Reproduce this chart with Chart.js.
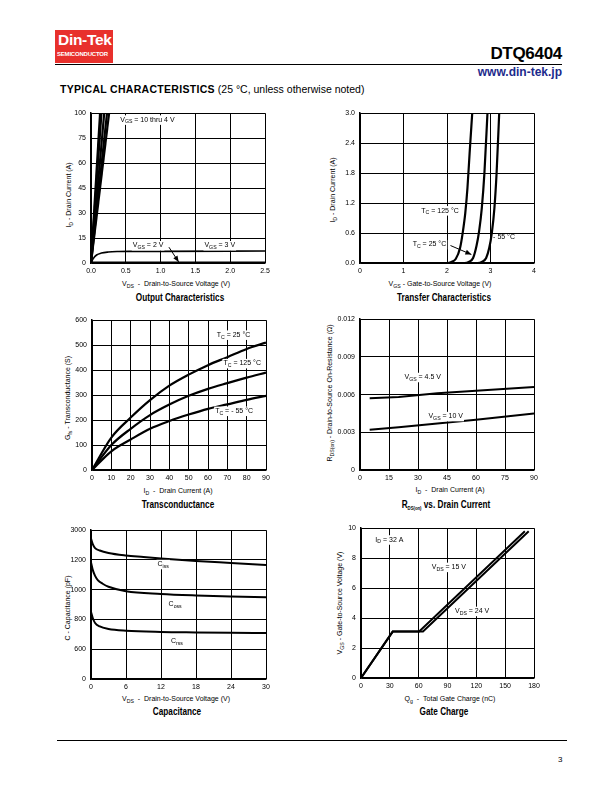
<!DOCTYPE html>
<html><head><meta charset="utf-8">
<script src="https://cdn.jsdelivr.net/npm/chart.js@4.4.1/dist/chart.umd.min.js"></script>
<style>
body{margin:0;width:612px;height:792px;position:relative;background:#fff;font-family:"Liberation Sans",Arial,sans-serif;color:#000;overflow:hidden}
.a{position:absolute;white-space:nowrap}
.c{transform:translate(-50%,-50%)}
.r{transform:translate(-50%,-50%) rotate(-90deg)}
.ax{font-size:7px}
.ti{font-size:10px;font-weight:bold;transform:translate(-50%,-50%) scaleX(0.82)}
sub{font-size:5.2px;vertical-align:-2px;line-height:0}
canvas{position:absolute}
</style></head><body>
<div class="a" style="left:55px;top:30px;width:58px;height:33px;background:#e8302c"></div>
<div class="a" style="left:58px;top:31px;font-size:15.5px;font-weight:bold;color:#fff;letter-spacing:-0.3px">Din-Tek</div>
<div class="a" style="left:57px;top:51px;font-size:6px;font-weight:bold;color:#fff;letter-spacing:-0.2px">SEMICONDUCTOR</div>
<div class="a" style="right:50px;top:44px;font-size:17px;font-weight:bold;letter-spacing:-0.3px">DTQ6404</div>
<div class="a" style="left:55px;top:63.5px;width:507px;height:1.5px;background:#000"></div>
<div class="a" style="right:50px;top:65px;font-size:12px;font-weight:bold;color:#1c2a8c">www.din-tek.jp</div>
<div class="a" style="left:60px;top:83px;font-size:10.5px"><b style="letter-spacing:0.3px">TYPICAL CHARACTERISTICS</b> (25 °C, unless otherwise noted)</div>
<div class="a" style="left:57px;top:740px;width:510px;height:1px;background:#000"></div>
<div class="a" style="left:558px;top:755px;font-size:8px">3</div>

<div class="a ax r" style="left:68px;top:195px">I<sub>D</sub> - Drain Current (A)</div>
<div class="a ax c" style="left:176px;top:283px">V<sub>DS</sub> &nbsp;- &nbsp;Drain-to-Source Voltage (V)</div>
<div class="a ti" style="left:180px;top:297px">Output Characteristics</div>

<div class="a ax r" style="left:332px;top:190px">I<sub>D</sub> - Drain Current (A)</div>
<div class="a ax c" style="left:440px;top:283px">V<sub>GS</sub> - Gate-to-Source Voltage (V)</div>
<div class="a ti" style="left:444px;top:297px">Transfer Characteristics</div>

<div class="a ax r" style="left:67px;top:398px">G<sub>fs</sub> - Transconductance (S)</div>
<div class="a ax c" style="left:178px;top:490px">I<sub>D</sub> &nbsp;- &nbsp;Drain Current (A)</div>
<div class="a ti" style="left:178px;top:504px">Transconductance</div>

<div class="a ax r" style="left:329px;top:393px">R<sub>DS(on)</sub> - Drain-to-Source On-Resistance (Ω)</div>
<div class="a ax c" style="left:450px;top:489px">I<sub>D</sub> &nbsp;- &nbsp;Drain Current (A)</div>
<div class="a ti" style="left:446px;top:504px">R<sub>DS(on)</sub> vs. Drain Current</div>

<div class="a ax r" style="left:67px;top:608px">C - Capacitance (pF)</div>
<div class="a ax c" style="left:176px;top:698px">V<sub>DS</sub> &nbsp;- &nbsp;Drain-to-Source Voltage (V)</div>
<div class="a ti" style="left:177px;top:711px">Capacitance</div>

<div class="a ax r" style="left:339px;top:603px">V<sub>GS</sub> - Gate-to-Source Voltage (V)</div>
<div class="a ax c" style="left:450px;top:698px">Q<sub>g</sub> &nbsp;- &nbsp;Total Gate Charge (nC)</div>
<div class="a ti" style="left:444px;top:711px">Gate Charge</div>

<script>
// ---------- DATA ----------
// Output characteristics (x: VDS V, y: ID axis units)
const outVgs10 = [[0,0],[0.13,90]];
const outVgs8  = [[0,0],[0.15,90]];
const outVgs6  = [[0,0],[0.19,90]];
const outVgs5  = [[0,0],[0.23,90]];
const outVgs4  = [[0,0],[0.26,90]];
const outVgs3  = [[0,0],[0.03,2.5],[0.08,4.8],[0.15,6.0],[0.25,6.6],[0.4,6.9],[0.55,7.0],[1.0,7.0],[2.5,7.2]];
const outVgs2  = [[0,0],[2.5,0]];
const outXTicks = ["0.0","0.5","1.0","1.5","2.0","2.5"];
const outYTicks = ["0","15","30","45","60","75","100"];

// Transfer characteristics (x: VGS V, y: ID A)
const trans125 = [[0,0],[2.0,0],[2.1,0.02],[2.2,0.08],[2.3,0.3],[2.36,0.6],[2.42,1.0],[2.47,1.5],[2.52,2.2],[2.58,3.0]];
const trans25  = [[0,0],[2.4,0],[2.5,0.02],[2.6,0.1],[2.68,0.35],[2.74,0.65],[2.8,1.1],[2.86,1.8],[2.93,3.0]];
const transM55 = [[0,0],[2.7,0],[2.8,0.02],[2.9,0.1],[2.97,0.3],[3.03,0.6],[3.09,1.1],[3.14,1.8],[3.2,3.0]];
const transXTicks = ["0","1","2","3","4"];
const transYTicks = ["0.0","0.6","1.2","1.8","2.4","3.0"];

// Transconductance (x: ID A, y: gfs S)
const gfs25  = [[0,0],[10,130],[20,210],[30,280],[40,338],[50,382],[60,420],[70,452],[80,485],[90,510]];
const gfs125 = [[0,0],[10,100],[20,165],[30,220],[40,262],[50,297],[60,325],[70,348],[80,370],[90,390]];
const gfsM55 = [[0,0],[10,75],[20,122],[30,165],[40,196],[50,222],[60,245],[70,263],[80,281],[90,297]];
const gfsXTicks = ["0","10","20","30","40","50","60","70","80","90"];
const gfsYTicks = ["0","100","200","300","400","500","600"];

// RDS(on) vs drain current (x: ID A, y: ohm)
const rdsVgs45 = [[5,0.0057],[20,0.0058],[40,0.0061],[60,0.0063],[90,0.0066]];
const rdsVgs10 = [[5,0.0032],[20,0.0034],[40,0.0037],[60,0.0040],[90,0.0045]];
const rdsXTicks = ["0","15","30","45","60","75","90"];
const rdsYTicks = ["0","0.003","0.006","0.009","0.012"];

// Capacitance (x: VDS V, y: axis units)
const capCiss = [[0,2830],[0.3,2720],[0.7,2640],[1.5,2590],[3,2540],[6,2490],[9,2460],[12,2430],[18,2380],[24,2340],[30,2300]];
const capCoss = [[0,2350],[0.3,2200],[0.7,2080],[1.2,1990],[2,1920],[3,1860],[6,1770],[12,1715],[18,1685],[24,1665],[30,1650]];
const capCrss = [[0,1350],[0.3,1230],[0.7,1130],[1.5,1060],[3,1010],[6,975],[12,950],[18,940],[24,932],[30,927]];
const capXTicks = ["0","6","12","18","24","30"];
const capYTicks = ["0","600","800","1000","1200","3000"];

// Gate charge (x: Qg nC, y: VGS V)
const qgVds15 = [[0,0],[33,3.1],[60.5,3.1],[170.5,9.8]];
const qgVds24 = [[0,0],[33,3.1],[64.5,3.1],[174.5,9.8]];
const qgXTicks = ["0","30","60","90","120","150","180"];
const qgYTicks = ["0","2","4","6","8","10"];

// ---------- RENDER ----------
Chart.defaults.font.family = '"Liberation Sans", Arial, sans-serif';
Chart.defaults.color = '#000';

const FONT = '"Liberation Sans", Arial, sans-serif';
const notesPlugin = {
  id: 'notes',
  afterDatasetsDraw(chart, args, opts) {
    const ctx = chart.ctx, xs = chart.scales.x, ys = chart.scales.y;
    ctx.save();
    ctx.textBaseline = 'middle';
    (opts.labels || []).forEach(l => {
      const x0 = xs.getPixelForValue(l.x), py = ys.getPixelForValue(l.y);
      let wsum = 0;
      l.parts.forEach(p => { ctx.font = (p[1] === 1 ? '5.2px ' : '7px ') + FONT; wsum += ctx.measureText(p[0]).width; });
      if (!l.nobg) { ctx.fillStyle = '#fff'; ctx.fillRect(x0 - 1, py - 4.5, wsum + 2, 9.5); }
      ctx.fillStyle = '#000';
      let px = x0;
      l.parts.forEach(p => {
        const sub = p[1] === 1;
        ctx.font = (sub ? '5.2px ' : '7px ') + FONT;
        ctx.fillText(p[0], px, py + (sub ? 2.2 : 0));
        px += ctx.measureText(p[0]).width;
      });
    });
    ctx.strokeStyle = '#000'; ctx.fillStyle = '#000';
    (opts.arrows || []).forEach(a => {
      const x1 = xs.getPixelForValue(a[0]), y1 = ys.getPixelForValue(a[1]);
      const x2 = xs.getPixelForValue(a[2]), y2 = ys.getPixelForValue(a[3]);
      ctx.lineWidth = 1;
      ctx.beginPath(); ctx.moveTo(x1, y1); ctx.lineTo(x2, y2); ctx.stroke();
      const ang = Math.atan2(y2 - y1, x2 - x1), L = 6, W = 2.5;
      ctx.beginPath();
      ctx.moveTo(x2, y2);
      ctx.lineTo(x2 - L * Math.cos(ang) + W * Math.sin(ang), y2 - L * Math.sin(ang) - W * Math.cos(ang));
      ctx.lineTo(x2 - L * Math.cos(ang) - W * Math.sin(ang), y2 - L * Math.sin(ang) + W * Math.cos(ang));
      ctx.closePath(); ctx.fill();
    });
    ctx.restore();
  }
};

function pts(arr) { return arr.map(p => ({x: p[0], y: p[1]})); }

function makeChart(rect, series, xr, yr, xLabels, yLabels, notes) {
  const PL = 40, PT = 8, PR = 12, PB = 16;
  const cv = document.createElement('canvas');
  const w = rect.r - rect.l + PL + PR, h = rect.b - rect.t + PT + PB;
  cv.width = w; cv.height = h;
  cv.style.left = (rect.l - PL) + 'px'; cv.style.top = (rect.t - PT) + 'px';
  cv.style.width = w + 'px'; cv.style.height = h + 'px';
  document.body.appendChild(cv);
  const axisCommon = {
    type: 'linear',
    grid: { color: '#000', lineWidth: 1, drawTicks: false },
    border: { color: '#000', width: 1.5 },
  };
  new Chart(cv, {
    type: 'line',
    data: {
      datasets: series.map(s => ({
        data: pts(s.d), borderColor: s.color || '#000', borderWidth: s.w || 2,
        pointRadius: 0, fill: false,
        cubicInterpolationMode: s.straight ? 'default' : 'monotone', tension: 0,
        borderJoinStyle: 'miter'
      }))
    },
    options: {
      responsive: false, animation: false, events: [],
      layout: { padding: { left: 0, top: PT, right: PR, bottom: 0 } },
      plugins: { legend: { display: false }, tooltip: { enabled: false }, notes: notes || {} },
      scales: {
        x: Object.assign({}, axisCommon, {
          min: xr[0], max: xr[1],
          ticks: { stepSize: xr[2], autoSkip: false, maxRotation: 0, padding: 4,
                   font: { size: 7 }, callback: (v, i) => xLabels[i] },
          afterFit: s => { s.height = PB; }
        }),
        y: Object.assign({}, axisCommon, {
          min: yr[0], max: yr[1],
          ticks: { stepSize: yr[2], autoSkip: false, padding: 5,
                   font: { size: 7 }, callback: (v, i) => yLabels[i] },
          afterFit: s => { s.width = PL; }
        })
      }
    },
    plugins: [notesPlugin]
  });
}

// 1. Output characteristics
makeChart({l:91,t:112,r:265,b:263},
  [{d:outVgs10,w:2.2,straight:1},{d:outVgs8,w:2.2,straight:1},{d:outVgs6,w:2.2,straight:1},
   {d:outVgs5,w:2.2,straight:1},{d:outVgs4,w:2.2,straight:1},
   {d:outVgs3,w:1.6},{d:outVgs2,w:3,straight:1}],
  [0,2.5,0.5],[0,90,15], outXTicks, outYTicks,
  { labels: [
      {x:0.42,y:86,parts:[["V",0],["GS",1],[" = 10 thru 4 V",0]]},
      {x:0.6,y:10.5,parts:[["V",0],["GS",1],[" = 2 V",0]]},
      {x:1.63,y:10.5,parts:[["V",0],["GS",1],[" = 3 V",0]]}],
    arrows: [[1.12,9.5,1.26,0.6]] });

// 2. Transfer characteristics
makeChart({l:360,t:112,r:534,b:263},
  [{d:trans125,w:2.2},{d:trans25,w:2.2},{d:transM55,w:2.2}],
  [0,4,1],[0,3,0.6], transXTicks, transYTicks,
  { labels: [
      {x:1.41,y:1.05,parts:[["T",0],["C",1],[" = 125 °C",0]]},
      {x:1.21,y:0.37,parts:[["T",0],["C",1],[" = 25 °C",0]]},
      {x:3.06,y:0.52,parts:[["- 55 °C",0]],nobg:1}],
    arrows: [[2.08,0.35,2.56,0.17]] });

// 3. Transconductance
makeChart({l:92,t:319,r:266,b:470},
  [{d:gfs25,w:2.2},{d:gfs125,w:2.2},{d:gfsM55,w:2.2}],
  [0,90,10],[0,600,100], gfsXTicks, gfsYTicks,
  { labels: [
      {x:64.5,y:541,parts:[["T",0],["C",1],[" = 25 °C",0]]},
      {x:68,y:427,parts:[["T",0],["C",1],[" = 125 °C",0]]},
      {x:63.7,y:236,parts:[["T",0],["C",1],[" = - 55 °C",0]]}] });

// 4. RDS(on) vs drain current
makeChart({l:360,t:318,r:534,b:470},
  [{d:rdsVgs45,w:2,straight:1},{d:rdsVgs10,w:2,straight:1}],
  [0,90,15],[0,0.012,0.003], rdsXTicks, rdsYTicks,
  { labels: [
      {x:23,y:0.00738,parts:[["V",0],["GS",1],[" = 4.5 V",0]]},
      {x:35.4,y:0.00427,parts:[["V",0],["GS",1],[" = 10 V",0]]}] });

// 5. Capacitance
makeChart({l:91,t:529,r:266,b:679},
  [{d:capCiss,w:2},{d:capCoss,w:2},{d:capCrss,w:2}],
  [0,30,6],[0,3000,600], capXTicks, capYTicks,
  { labels: [
      {x:11.4,y:2313,parts:[["C",0],["iss",1]]},
      {x:13.3,y:1513,parts:[["C",0],["oss",1]]},
      {x:13.7,y:760,parts:[["C",0],["rss",1]]}] });

// 6. Gate charge
makeChart({l:361,t:527,r:534,b:678},
  [{d:qgVds15,w:2,straight:1},{d:qgVds24,w:2,straight:1}],
  [0,180,30],[0,10,2], qgXTicks, qgYTicks,
  { labels: [
      {x:14.9,y:9.23,parts:[["I",0],["D",1],[" = 32 A",0]]},
      {x:73.6,y:7.4,parts:[["V",0],["DS",1],[" = 15 V",0]]},
      {x:97.8,y:4.46,parts:[["V",0],["DS",1],[" = 24 V",0]]}] });
</script>
</body></html>
